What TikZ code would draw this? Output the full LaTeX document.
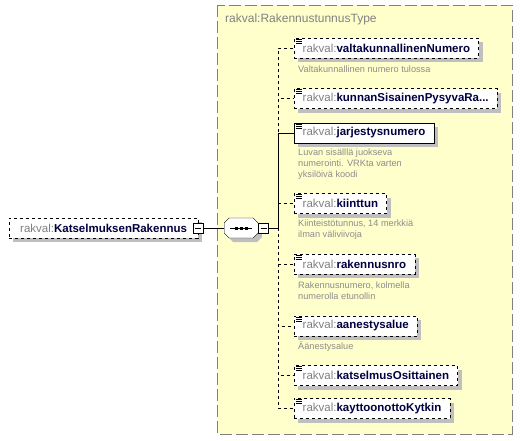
\documentclass[tikz,border=0pt]{standalone}
\usepackage{fontspec}
\setmainfont{Liberation Sans}
\usetikzlibrary{shadows}

\definecolor{typefill}{HTML}{FFFFCC}
\definecolor{nsgray}{HTML}{808080}
\definecolor{namecol}{HTML}{000040}
\definecolor{docgray}{HTML}{8C8C8C}

\tikzset{
  elem/.style={draw, fill=white, anchor=west, minimum height=20pt,
    inner xsep=8.5pt, inner ysep=0pt, font=\fontsize{11.5}{13}\selectfont,
    drop shadow={shadow xshift=4pt, shadow yshift=-4pt, fill=black!25, opacity=1}},
  optelem/.style={elem, dashed},
  note/.style={anchor=north west, align=left, inner sep=0pt, text=docgray,
    font=\fontsize{9.2}{10.6}\selectfont},
  minusbox/.style={draw, fill=white, minimum size=10pt, inner sep=0pt,
    path picture={\draw ([xshift=-3pt]path picture bounding box.center)
      -- ([xshift=3pt]path picture bounding box.center);}},
  seqbox/.style={minimum width=34pt, minimum height=20pt, inner sep=0pt}
}
\newcommand{\elname}[1]{{\color{nsgray}rakval:}{\color{namecol}\bfseries #1}}
\newcommand{\octpath}{++(-17,-5) -- ++(5,-5) -- ++(24,0) -- ++(5,5) -- ++(0,10) -- ++(-5,5) -- ++(-24,0) -- ++(-5,-5) -- cycle}

\begin{document}
\begin{tikzpicture}[x=1pt,y=-1pt]
  \useasboundingbox (0,0) rectangle (523,440);
  % complex type area
  \draw[gray, dash pattern=on 12pt off 4pt, fill=typefill] (217,5) rectangle (512,434);
  \node[anchor=west, inner sep=0pt, text=nsgray, font=\fontsize{12}{14}\selectfont]
    (typename) at (225,19) {rakval:RakennustunnusType};

  % root element
  \node[optelem, inner xsep=11pt] (root) at (9,228) {\elname{KatselmuksenRakennus}};
  \node[minusbox] (rootmin) at (root.east) {};

  % sequence
  \node[seqbox, anchor=west] (seq) at (224,228) {};
  \fill[black!25] ([shift={(4,4)}]seq.center) \octpath;
  \draw[fill=white] (seq.center) \octpath;
  \draw ([xshift=-11pt]seq.center) -- ([xshift=11pt]seq.center);
  \foreach \dx in {-5,0,5}
    \fill ([xshift=\dx pt]seq.center) +(-1.5,-1.5) rectangle +(1.5,1.5);
  \node[minusbox, anchor=west] (seqmin) at (seq.east) {};
  \coordinate (bus) at (278,228);
  \draw (rootmin.east) -- (seq.west);
  \draw (seqmin.east) -- (bus);

  % child elements
  \node[optelem] (valt) at (294,48) {\elname{valtakunnallinenNumero}};
  \node[optelem] (kunn) at (294,98.5) {\elname{kunnanSisainenPysyvaRa...}};
  \node[elem] (jarj) at (294,133) {\elname{jarjestysnumero}};
  \node[optelem] (kiint) at (294,203.5) {\elname{kiinttun}};
  \node[optelem] (rakn) at (294,264) {\elname{rakennusnro}};
  \node[optelem] (aan) at (294,326) {\elname{aanestysalue}};
  \node[optelem] (kats) at (294,375.5) {\elname{katselmusOsittainen}};
  \node[optelem] (kayt) at (294,408.5) {\elname{kayttoonottoKytkin}};

  \foreach \n in {valt,kunn,jarj,kiint,rakn,aan,kats,kayt}
    \foreach \dy in {1.5,3.5,5.5}
      \draw[line width=0.7pt] ([shift={(1.5,\dy)}]\n.north west) -- ++(6.5,0);

  % connectors
  \foreach \n in {valt,kunn,kiint,rakn,aan,kats,kayt}
    \draw[dashed] (bus) |- (\n.west);
  \draw (bus) |- (jarj.west);

  % annotations
  \node[note] (valtdoc) at (298,66) {Valtakunnallinen numero tulossa};
  \node[note] (jarjdoc) at (298,149) {Luvan sisälllä juokseva\\numerointi. VRKta varten\\yksilöivä koodi};
  \node[note] (kiintdoc) at (298,220) {Kiinteistötunnus, 14 merkkiä\\ilman väliviivoja};
  \node[note] (rakndoc) at (298,282) {Rakennusnumero, kolmella\\numerolla etunollin};
  \node[note] (aandoc) at (298,342) {Äänestysalue};
\end{tikzpicture}
\end{document}
